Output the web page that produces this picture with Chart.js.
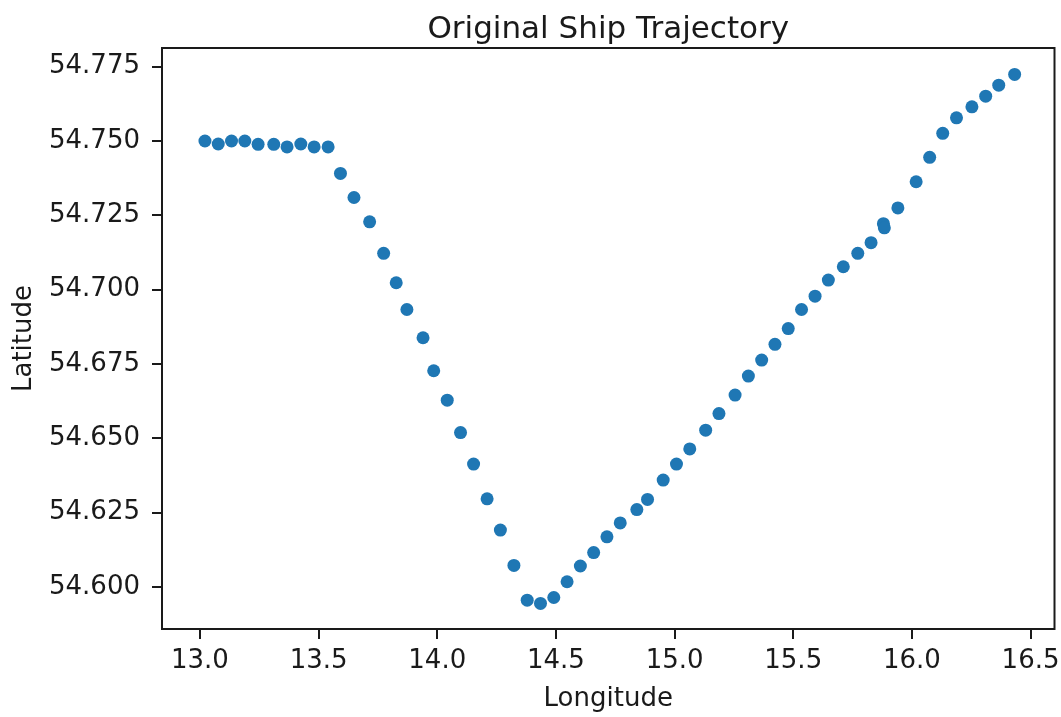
<!DOCTYPE html>
<html>
<head>
<meta charset="utf-8">
<title>Original Ship Trajectory</title>
<script src="https://cdn.jsdelivr.net/npm/chart.js@4/dist/chart.umd.min.js"></script>
<style>
  html, body { margin: 0; padding: 0; background: #fff; }
  #wrap { width: 1061px; height: 717px; }
</style>
</head>
<body>
<div id="wrap"><canvas id="trajChart" width="1061" height="717"></canvas></div>
<script>
/* Ship trajectory scatter */
const LONGITUDE = [
  13.021, 13.077, 13.133, 13.189, 13.245, 13.311, 13.367, 13.425, 13.481, 13.540,
  13.592, 13.649, 13.715, 13.774, 13.827, 13.872, 13.940, 13.985, 14.042, 14.098,
  14.153, 14.210, 14.266, 14.323, 14.379, 14.435, 14.491, 14.547, 14.603, 14.659,
  14.715, 14.771, 14.841, 14.886, 14.952, 15.008, 15.064, 15.131, 15.187, 15.255,
  15.311, 15.367, 15.423, 15.479, 15.535, 15.592, 15.648, 15.711, 15.772, 15.828,
  15.880, 15.884, 15.941, 16.018, 16.075, 16.130, 16.188, 16.253, 16.311, 16.366,
  16.433,
];
const LATITUDE = [
  54.7500, 54.7490, 54.7500, 54.7500, 54.7489, 54.7489, 54.7480, 54.7490, 54.7480, 54.7480,
  54.7391, 54.7310, 54.7228, 54.7122, 54.7023, 54.6933, 54.6838, 54.6727, 54.6628, 54.6519,
  54.6413, 54.6296, 54.6191, 54.6072, 54.5955, 54.5944, 54.5964, 54.6017, 54.6070, 54.6115,
  54.6168, 54.6215, 54.6260, 54.6294, 54.6359, 54.6413, 54.6464, 54.6527, 54.6583, 54.6645,
  54.6709, 54.6763, 54.6816, 54.6869, 54.6933, 54.6978, 54.7032, 54.7077, 54.7122, 54.7158,
  54.7222, 54.7208, 54.7275, 54.7363, 54.7445, 54.7526, 54.7578, 54.7615, 54.7651, 54.7688,
  54.7724,
];
const X_TICKS = [13.0, 13.5, 14.0, 14.5, 15.0, 15.5, 16.0, 16.5];
const Y_TICKS = [54.600, 54.625, 54.650, 54.675, 54.700, 54.725, 54.750, 54.775];

const FONT = "'DejaVu Sans', 'Liberation Sans', sans-serif";
const INK = '#1a1a1a';
const X_MIN = 12.840, X_MAX = 16.601;

// full box round the plot, like matplotlib spines
const frame = {
  id: 'frame',
  beforeDatasetsDraw(chart) {
    const { ctx, chartArea: a } = chart;
    ctx.save();
    ctx.strokeStyle = INK;
    ctx.lineWidth = 2;
    ctx.strokeRect(a.left, a.top, a.right - a.left, a.bottom - a.top);
    ctx.restore();
  },
};

const points = LONGITUDE.map((lon, i) => ({ x: lon, y: LATITUDE[i] }));

new Chart(document.getElementById('trajChart').getContext('2d'), {
  type: 'scatter',
  data: {
    datasets: [{
      data: points,
      backgroundColor: '#1f77b4',
      borderWidth: 0,
      pointRadius: 6.5,
      pointHoverRadius: 6.5,
    }],
  },
  options: {
    responsive: false,
    animation: false,
    layout: { padding: { left: 0, right: 5, top: 0, bottom: 0 } },
    plugins: {
      legend: { display: false },
      tooltip: { enabled: false },
      title: { display: false },
    },
    scales: {
      x: {
        type: 'linear',
        min: X_MIN,
        max: X_MAX,
        afterBuildTicks: axis => { axis.ticks = X_TICKS.map(v => ({ value: v })); },
        afterFit: axis => {
          axis.height = 88;
          axis.paddingLeft = 0;
          axis.paddingRight = 0;
        },
        border: { display: false },
        grid: { drawOnChartArea: false, drawTicks: true, tickLength: 10, color: INK, lineWidth: 2 },
        ticks: {
          color: INK,
          padding: 7,
          maxRotation: 0,
          font: { family: FONT, size: 26 },
          callback: v => v.toFixed(1),
        },
        title: {
          display: true,
          text: 'Longitude',
          color: INK,
          font: { family: FONT, size: 26, lineHeight: 1.2 },
          padding: { top: 0, bottom: 2 },
        },
      },
      // top axis only carries the title, so it centres over the plot area
      top: {
        type: 'linear',
        position: 'top',
        min: X_MIN,
        max: X_MAX,
        afterFit: axis => {
          axis.height = 48;
          axis.paddingLeft = 0;
          axis.paddingRight = 0;
        },
        border: { display: false },
        grid: { display: false },
        ticks: { display: false },
        title: {
          display: true,
          text: 'Original Ship Trajectory',
          color: INK,
          font: { family: FONT, size: 31, lineHeight: 1.2 },
          padding: { top: 11, bottom: 0 },
        },
      },
      y: {
        type: 'linear',
        min: 54.5858,
        max: 54.7813,
        afterBuildTicks: axis => { axis.ticks = Y_TICKS.map(v => ({ value: v })); },
        afterFit: axis => {
          axis.width = 162;
          axis.paddingTop = 0;
          axis.paddingBottom = 0;
        },
        border: { display: false },
        grid: { drawOnChartArea: false, drawTicks: true, tickLength: 10, color: INK, lineWidth: 2 },
        ticks: {
          color: INK,
          padding: 12,
          font: { family: FONT, size: 26 },
          callback: v => v.toFixed(3),
        },
        title: {
          display: true,
          text: 'Latitude',
          color: INK,
          font: { family: FONT, size: 26, lineHeight: 1.2 },
          padding: { top: 9, bottom: 0 },
        },
      },
    },
  },
  plugins: [frame],
});
</script>
</body>
</html>
